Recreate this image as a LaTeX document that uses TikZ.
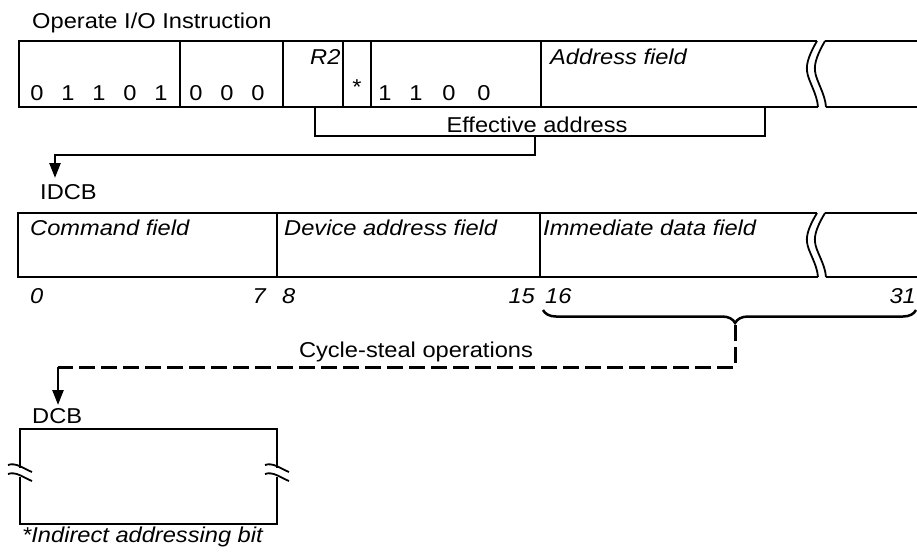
\documentclass[tikz,border=0pt]{standalone}
\usepackage{fontspec}
\setmainfont{Liberation Sans}[FakeStretch=1.1]
\usetikzlibrary{arrows.meta,decorations.pathreplacing}
\tikzset{
  reg/.style={draw=black,line width=1.8pt},
  txt/.style={inner sep=0pt,font=\fontsize{21.5}{24}\selectfont},
  itxt/.style={inner sep=0pt,font=\fontsize{21.5}{24}\selectfont\itshape},
  bit/.style={txt,anchor=base},
  arr/.style={draw=black,line width=2.5pt,-{Triangle[length=15pt,width=11pt]}},
  cs/.style={draw=black,line width=3pt,dash pattern=on 16pt off 6pt},
  brc/.style={draw=black,line width=2.5pt,decorate,
    decoration={brace,mirror,amplitude=13pt,aspect=0.515}},
  wave/.pic={\draw[reg] (0,0) .. controls (-7,12) and (-11,22) .. (-10,30)
    .. controls (-9,40) and (0,52) .. (1,66);},
  cut/.pic={\draw[line width=1.8pt] (-12,-3) .. controls (-4,-6) and (4,1) .. (12,4);},
}

\begin{document}
\begin{tikzpicture}[x=1pt,y=-1pt]
  \useasboundingbox (0,0) rectangle (917,554);
  \node[txt,anchor=base west] (title) at (32,28) {Operate I/O Instruction};
  \draw[reg] (817,41) -- (19,41) -- (19,107) -- (818,107);
  \draw[reg] (825,41) -- (917,41);
  \draw[reg] (826,107) -- (917,107);
  \pic at (817,41) {wave};
  \pic at (825,41) {wave};
  \foreach \x in {180,283,343,371,541} \draw[reg] (\x,41) -- (\x,107);
  \foreach \b [count=\i] in {0,1,1,0,1} \node[bit] (op\i) at ({6+31*\i},100) {\b};
  \foreach \b [count=\i] in {0,0,0} \node[bit] (fc\i) at ({165+31*\i},100) {\b};
  \node[itxt,anchor=base west] (r2) at (310,64) {R2};
  \node[txt,anchor=base] (ind) at (357,94) {*};
  \foreach \b/\x [count=\i] in {1/385,1/416,0/449,0/484} \node[bit] (dsp\i) at (\x,100) {\b};
  \node[itxt,anchor=base west] (adr) at (550,64) {Address field};
  \coordinate (ea-l) at (315,107);
  \coordinate (ea-r) at (765,107);
  \coordinate (ea-b) at (535,136);
  \draw[reg] (ea-l) |- (ea-b) -| (ea-r);
  \node[txt,anchor=base] (eff) at (537,132) {Effective address};
  \coordinate (ea-turn) at (55,155);
  \coordinate (idcb-in) at (55,178);
  \draw[arr] (ea-b) |- (ea-turn) -- (idcb-in);
  \node[txt,anchor=base west] (idcb) at (40,199) {IDCB};
  \draw[reg] (817,213) -- (18,213) -- (18,277) -- (818,277);
  \draw[reg] (825,213) -- (917,213);
  \draw[reg] (826,277) -- (917,277);
  \pic[yscale=0.97] at (817,213) {wave};
  \pic[yscale=0.97] at (825,213) {wave};
  \foreach \x in {277,540} \draw[reg] (\x,213) -- (\x,277);
  \node[itxt,anchor=base west] (cmd) at (30,235) {Command field};
  \node[itxt,anchor=base west] (dev) at (284,235) {Device address field};
  \node[itxt,anchor=base west] (imm) at (543,235) {Immediate data field};
  \node[itxt,anchor=base west] (n0) at (30,303) {0};
  \node[itxt,anchor=base east] (n7) at (266,303) {7};
  \node[itxt,anchor=base west] (n8) at (282,303) {8};
  \node[itxt,anchor=base east] (n15) at (535,303) {15};
  \node[itxt,anchor=base west] (n16) at (545,303) {16};
  \node[itxt,anchor=base east] (n31) at (916,303) {31};
  \coordinate (br-l) at (543,310);
  \coordinate (br-r) at (916,310);
  \coordinate (br-tip) at (735,325);
  \draw[brc] (br-l) -- (br-r);
  \coordinate (cs-turn) at (58,367);
  \coordinate (dcb-in) at (58,405);
  \draw[cs] (br-tip) |- (cs-turn);
  \draw[arr] (cs-turn) -- (dcb-in);
  \node[txt,anchor=base] (cst) at (416,357) {Cycle-steal operations};
  \node[txt,anchor=base west] (dcb) at (32,423) {DCB};
  \draw[reg] (20,468) -- (20,429) -- (277,429) -- (277,468);
  \draw[reg] (20,477) -- (20,524) -- (277,524) -- (277,477);
  \foreach \x in {20,277} {
    \pic at (\x,468) {cut};
    \pic at (\x,477) {cut};
  }
  \node[itxt,anchor=base west] (fnote) at (22,542) {*Indirect addressing bit};
\end{tikzpicture}
\end{document}
